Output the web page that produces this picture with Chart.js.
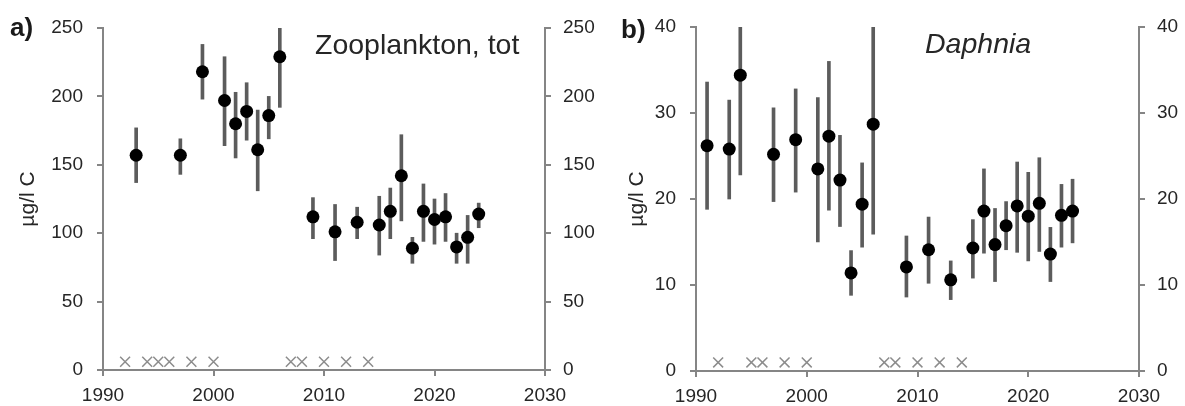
<!DOCTYPE html>
<html>
<head>
<meta charset="utf-8">
<script src="https://cdn.jsdelivr.net/npm/chart.js@4.4.1/dist/chart.umd.min.js"></script>
<style>
  body { margin: 0; background: #fff; }
  #wrap { position: relative; width: 1185px; height: 406px; overflow: hidden; font-family: "Liberation Sans", Arial, sans-serif; color: #1a1a1a; }
  .panel { position: absolute; top: 0; height: 406px; }
  .lbl { position: absolute; line-height: 1; white-space: pre; }
  .tag { font-weight: bold; font-size: 26px; }
  .ttl { font-size: 28.5px; color: #262626; }
</style>
</head>
<body>
<div id="wrap">
  <div class="panel" style="left:0;width:615px"><canvas id="zoo" width="615" height="406"></canvas></div>
  <div class="panel" style="left:590px;width:595px"><canvas id="daph" width="595" height="406"></canvas></div>
  <div class="lbl tag" style="left:10px;top:14px">a)</div>
  <div class="lbl tag" style="left:621px;top:16px">b)</div>
  <div class="lbl ttl" style="left:315px;top:30px">Zooplankton, tot</div>
  <div class="lbl ttl" style="left:925px;top:29px;font-style:italic">Daphnia</div>
</div>
<script>
// a) total zooplankton, µg/l C
const zooYears = [1993, 1997, 1999, 2001, 2002, 2003, 2004, 2005, 2006, 2009, 2011, 2013, 2015, 2016, 2017, 2018, 2019, 2020, 2021, 2022, 2023, 2024];
const zooMean  = [157, 157, 218, 197, 180, 189, 161, 186, 229, 112, 101, 108, 106, 116, 142, 89, 116, 110, 112, 90, 97, 114];
const zooLow   = [137, 143, 198, 164, 155, 168, 131, 169, 192, 96, 80, 96, 84, 96, 109, 78, 94, 92, 94, 78, 78, 104];
const zooHigh  = [177, 169, 238, 229, 203, 210, 190, 200, 250, 126, 121, 119, 127, 133, 172, 97, 136, 125, 129, 100, 113, 122];
const zooMissing = [1992, 1994, 1995, 1996, 1998, 2000, 2007, 2008, 2010, 2012, 2014];
const zooMissingLevel = 6;
const zooTicks = [0, 50, 100, 150, 200, 250];

// b) Daphnia, µg/l C
const daphYears = [1991, 1993, 1994, 1997, 1999, 2001, 2002, 2003, 2004, 2005, 2006, 2009, 2011, 2013, 2015, 2016, 2017, 2018, 2019, 2020, 2021, 2022, 2023, 2024];
const daphMean  = [26.2, 25.8, 34.4, 25.2, 26.9, 23.5, 27.3, 22.2, 11.4, 19.4, 28.7, 12.1, 14.1, 10.6, 14.3, 18.6, 14.7, 16.9, 19.2, 18.0, 19.5, 13.6, 18.1, 18.6];
const daphLow   = [18.8, 20.0, 22.8, 19.7, 20.8, 15.0, 18.7, 16.8, 8.8, 14.4, 15.9, 8.6, 10.2, 8.3, 10.8, 13.7, 10.4, 14.1, 13.8, 12.8, 13.9, 10.4, 14.4, 14.9];
const daphHigh  = [33.6, 31.5, 40.0, 30.6, 32.8, 31.8, 36.0, 27.4, 14.0, 24.2, 40.0, 15.7, 17.9, 12.8, 17.6, 23.5, 18.9, 19.7, 24.3, 23.1, 24.8, 16.7, 21.7, 22.3];
const daphMissing = [1992, 1995, 1996, 1998, 2000, 2007, 2008, 2010, 2012, 2014];
const daphMissingLevel = 1;
const daphTicks = [0, 10, 20, 30, 40];

const yearTicks = [1990, 2000, 2010, 2020, 2030];

const axisColor = "#858585";
const textColor = "#262626";
const fontFamily = "'Liberation Sans', Arial, sans-serif";

function yScale(pos, ticks, width, pad, withTitle, titlePad) {
  return {
    position: pos,
    min: ticks[0],
    max: ticks[ticks.length - 1],
    afterBuildTicks: s => { s.ticks = ticks.map(v => ({ value: v })); },
    ticks: { color: textColor, font: { family: fontFamily, size: 19 }, padding: pad },
    grid: { display: true, drawOnChartArea: false, tickLength: 6, color: axisColor, lineWidth: 2 },
    border: { color: axisColor, width: 2 },
    title: {
      display: withTitle, text: "µg/l C", color: textColor,
      font: { family: fontFamily, size: 21 }, padding: { top: titlePad, bottom: 0 },
    },
    afterFit: s => { s.width = width; },
  };
}

function buildPanel(id, p) {
  new Chart(document.getElementById(id), {
    type: "bar",
    data: {
      datasets: [
        {
          type: "scatter",
          data: p.years.map((x, i) => ({ x, y: p.mean[i] })),
          pointRadius: 6.5, backgroundColor: "#000", borderWidth: 0, order: 0,
        },
        {
          type: "scatter",
          data: p.missing.map(x => ({ x, y: p.missingLevel })),
          pointStyle: "crossRot", pointRadius: 7, borderColor: "#8c8c8c", borderWidth: 1.5,
          backgroundColor: "#8c8c8c", order: 1,
        },
        {
          type: "bar",
          data: p.years.map((x, i) => ({ x, y: [p.low[i], p.high[i]] })),
          backgroundColor: "#5c5c5c", barThickness: 3, borderWidth: 0, order: 2,
        },
      ],
    },
    options: {
      responsive: false,
      animation: false,
      layout: { padding: { top: p.top, left: 0, right: 0, bottom: 0 } },
      plugins: { legend: { display: false }, tooltip: { enabled: false } },
      scales: {
        x: {
          type: "linear", min: 1990, max: 2030, offset: false,
          afterBuildTicks: s => { s.ticks = yearTicks.map(v => ({ value: v })); },
          ticks: { color: textColor, font: { family: fontFamily, size: 19 }, padding: 8, maxRotation: 0, callback: v => String(v) },
          grid: { display: true, drawOnChartArea: false, offset: false, tickLength: 6, color: axisColor, lineWidth: 2 },
          border: { color: axisColor, width: 2 },
          afterFit: s => { s.height = p.xHeight; },
        },
        y: yScale("left", p.ticks, p.leftW, 14, true, p.titlePad),
        y2: yScale("right", p.ticks, p.rightW, 12, false, 0),
      },
    },
  });
}

buildPanel("zoo", {
  years: zooYears, mean: zooMean, low: zooLow, high: zooHigh,
  missing: zooMissing, missingLevel: zooMissingLevel, ticks: zooTicks,
  top: 28, xHeight: 36, leftW: 103, rightW: 70, titlePad: 16,
});

buildPanel("daph", {
  years: daphYears, mean: daphMean, low: daphLow, high: daphHigh,
  missing: daphMissing, missingLevel: daphMissingLevel, ticks: daphTicks,
  top: 27, xHeight: 35, leftW: 106, rightW: 46, titlePad: 35,
});
</script>
</body>
</html>
